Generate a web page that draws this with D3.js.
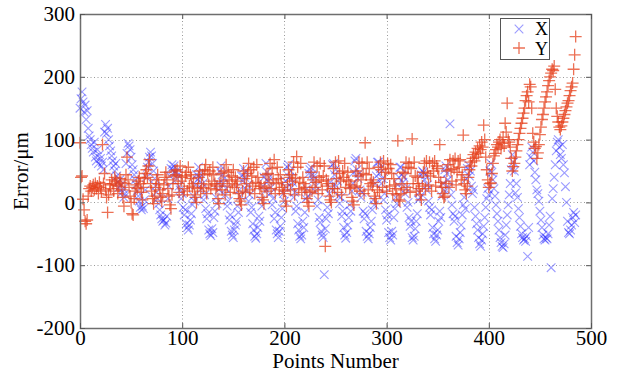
<!DOCTYPE html>
<html>
<head>
<meta charset="utf-8">
<script src="https://cdn.jsdelivr.net/npm/d3@7"></script>
<style>
  body { margin: 0; background: #fff; }
  svg { display: block; }
  svg text { font-family: "Liberation Serif", "Times New Roman", "DejaVu Serif", serif; }
</style>
</head>
<body>
<svg id="chart" width="622" height="378"></svg>
<script>
// Axis tick values
const xTicks = [0, 100, 200, 300, 400, 500];
const yTicks = [-200, -100, 0, 100, 200, 300];
const seriesNames = ["X", "Y"];
const axisTitles = { x: "Points Number", y: "Error/\u03bcm" };
const serifFamily = '"Liberation Serif", "Times New Roman", "DejaVu Serif", serif';

// Error in X direction for each measured point (index = point number)
const errX = [
  150, 165, 176, 160, 144, 155, 132, 146, 118, 106,
  100, 92, 86, 80, 96, 72, 66, 84, 62, 76,
  70, 58, 64, 52, 112, 124, 110, 118, 100, 90,
  82, 74, 66, 58, 50, 62, 42, 32, 24, 36,
  28, 16, 22, 8, 14, 62, 78, 94, 90, 84,
  72, 60, 52, 44, 36, 28, 18, 10, 2, -8,
  -12, -6, -10, 4, 20, 40, 56, 64, 72, 80,
  74, 62, 50, 38, 26, 16, 6, -2, -12, -20,
  -26, -30, -28, -36, -33, -22, 6, 26, 42, 54,
  60, 52, 58, 46,
  50, 38, 44, 26, 20, 6, 14, -8, -20, -12, -34, -40, -44, -36, -28, -18, -4, 10, 2, 28, 44, 36,
  56, 40, 46, 22, 30, 4, 12, -10, -26, -18, -44, -50, -53, -42, -48, -24, -14, 8, -2, 30, 20, 50,
  58, 44, 30, 38, 12, 22, -6, 2, -28, -20, -46, -52, -56, -44, -36, -30, -6, -16, 20, 10, 42, 34,
  54, 40, 48, 20, 28, 2, 12, -16, -8, -34, -44, -54, -57, -50, -40, -22, -30, 4, -6, 26, 40, 18,
  62, 48, 34, 40, 14, 24, -4, 6, -26, -16, -44, -50, -56, -46, -38, -24, -10, 14, 2, 34, 24, 56,
  60, 40, 50, 24, 32, 8, 16, -14, -6, -34, -44, -54, -58, -52, -30, -40, -16, 6, 22, 10, 46, 52,
  56, 44, 36, 42, 18, 26, -6, 4, -24, -32, -46, -52, -56, -115, -42, -26, -8, -18, 14, 32, 22, 60,
  62, 44, 52, 26, 34, 10, -2, 8, -22, -14, -40, -52, -57, -48, -36, -24, -4, -14, 18, 30, 48, 66,
  70, 52, 38, 46, 20, 8, 16, -14, -26, -18, -46, -54, -58, -50, -40, -30, -12, 4, -4, 30, 42, 64,
  64, 46, 54, 30, 38, 4, 14, -12, -28, -20, -48, -56, -60, -46, -52, -24, -10, 8, -2, 28, 40, 56,
  56, 44, 32, 40, 14, 22, -8, 0, -24, -38, -30, -56, -60, -54, -42, -30, -18, 4, 16, 8, 44, 50,
  48, 36, 44, 20, 28, 2, -8, -20, -12, -40, -50, -58, -62, -52, -44, -30, -14, -24, 10, 30, 20, 52,
  58, 46, 36, 24, 125, 12, -4, -18, -30, -22, -54, -64, -68, -58, -48, -36, -20, -4, 8, -10, 38, 54,
  60, 42, 50, 26, 14, 20, -8, -22, -34, -44, -56, -66, -70, -60, -50, -38, -24, -8, 6, 22, 12, 50,
  62, 48, 36, 22, 10, -4, -18, -30, -44, -56, -64, -70,
  -72, -66, -52, -36, -20, -4, 12, 30, 52, 76,
  64, 50, 15, 30, 8, -10, -24, -38, -50, -56, -60, -58,
  -62, -54, -86, -40, 60, 72, 88, 80, 66, 48,
  36, 20, 14, 2, -14, -28, -40, -52, -58, -60, -56, -58,
  -50, -36, -22, -104, 6, 22, 40, 60, 82, 96,
  100, 88, 76, 70, 92, 60, 47, 25, 0, -30,
  -48, -50, -44, -36, -24, -16, -32, -20
];

// Error in Y direction for each measured point (index = point number)
const errY = [
  95, 40, 42, 5, -12, -30, -34, -28, 10, 22,
  26, 18, 24, 28, 20, 30, 22, 26, 14, 32,
  24, 18, 92, 30, 46, 20, 8, -16, 12, 28,
  22, 36, 30, 18, 40, 34, 28, 14, 26, 38,
  32, 20, 8, -6, 30, 44, 72, 36, 24, 10,
  0, -18, -20, 6, 18, 28, 22, 34, 40, 30,
  16, 4, 24, 38, 46, 52, 40, 58, 68, 30,
  18, 6, -2, 10, 24, 36, 44, 30, 20, 8,
  2, 14, 28, 40, 48, 36, 22, 10, -4, -10,
  12, 30, 42, 50,
  44, 52, 30, 16, 58, 34, 40, 12, 22, 42, 48, 18, 56, 26, 44, 38, 24, 30, 12, 8, 0, 22,
  40, 50, 18, 30, 44, 24, 52, 60, 14, 46, 28, 50, 22, 34, 56, 44, 30, 20, 26, 6, -2, 30,
  46, 20, 34, 50, 12, 60, 26, 48, 36, 16, 42, 30, 52, 24, 40, 28, 34, 14, 6, 2, -4, 18,
  50, 38, 16, 30, 46, 62, 20, 52, 42, 26, 56, 14, 32, 60, 40, 30, 22, 26, 8, 4, -2, 24,
  44, 18, 46, 32, 62, 22, 54, 36, 68, 14, 30, 56, 38, 20, 44, 32, 24, 14, 18, 2, -6, 28,
  52, 40, 20, 44, 34, 64, 12, 38, 73, 56, 22, 32, 62, 16, 40, 30, 20, 24, 6, 0, -6, 16,
  48, 18, 36, 64, 24, 32, 58, 14, 40, 62, 34, 20, 42, 58, -70, 36, 26, 30, 10, 4, 0, 22,
  54, 22, 64, 38, 16, 66, 46, 34, 12, 50, 40, 62, 24, 36, 48, 34, 22, 28, 8, 2, -4, 26,
  50, 24, 42, 64, 18, 36, 62, 46, 14, 95, 44, 64, 20, 54, 30, 36, 26, 32, 10, 6, -2, 20,
  56, 16, 64, 52, 24, 66, 38, 48, 18, 62, 54, 26, 60, 46, 14, 38, 28, 22, 12, 98, 4, 2,
  14, 30, 48, 20, 46, 64, 24, 56, 62, 16, 54, 101, 30, 64, 42, 18, 40, 30, 22, 12, 4, 26,
  48, 62, 22, 66, 46, 28, 64, 42, 18, 62, 50, 66, 26, 58, 54, 40, 92, 32, 24, 14, 8, 10,
  30, 50, 60, 24, 68, 52, 34, 66, 54, 70, 28, 48, 66, 56, 68, 36, 44, 107, 30, 20, 14, 26,
  40, 52, 64, 58, 70, 76, 66, 80, 72, 86, 78, 90, 84, 96, 88, 123, 100, 72, 52, 36, 24, 30,
  31, 46, 62, 74, 78, 84, 92, 88, 96, 100,
  86, 94, 104, 90, 126, 112, 158, 100, 96, 88,
  70, 50, 57, 62, 72, 82, 92, 100, 110, 118,
  126, 134, 142, 150, 162, 170, 176, 160, 188, 184,
  150, 110, 96, 86, 89, 70, 79, 92, 108, 120,
  132, 140, 150, 160, 168, 176, 186, 194, 200, 206,
  212, 210, 217, 180, 150, 137, 128, 120, 116, 122,
  128, 134, 140, 146, 152, 158, 162, 170, 178, 184, 190, 212, 235, 264
];

const svg = d3.select("#chart");
const plotLeft = 80, plotRight = 591, plotTop = 14, plotBottom = 328;
const fontSize = 21;
const plainNumber = d => String(d);   // ASCII hyphen for negatives

const x = d3.scaleLinear().domain([0, 500]).range([plotLeft, plotRight]);
const y = d3.scaleLinear().domain([-200, 300]).range([plotBottom, plotTop]);

// dotted grid at the interior ticks
const grid = svg.append("g").attr("stroke", "#9a9a9a").attr("stroke-width", 1)
  .attr("stroke-dasharray", "1,2.5");
grid.selectAll("line.vx").data(xTicks.slice(1, -1)).join("line")
  .attr("x1", d => Math.round(x(d)) + 0.5).attr("x2", d => Math.round(x(d)) + 0.5)
  .attr("y1", plotTop).attr("y2", plotBottom);
grid.selectAll("line.hy").data(yTicks.slice(1, -1)).join("line")
  .attr("y1", d => Math.round(y(d)) + 0.5).attr("y2", d => Math.round(y(d)) + 0.5)
  .attr("x1", plotLeft).attr("x2", plotRight);

// marker shapes
const crossPath = "M-4.3,-4.3L4.3,4.3M-4.3,4.3L4.3,-4.3";
const plusPath = "M-6,0H6M0,-6V6";

svg.append("g").selectAll("path").data(errX).join("path")
  .attr("d", crossPath)
  .attr("transform", (d, i) => `translate(${x(i)},${y(d)})`)
  .attr("fill", "none").attr("stroke", "#2222ff").attr("stroke-opacity", 0.45).attr("stroke-width", 1.1);

svg.append("g").selectAll("path").data(errY).join("path")
  .attr("d", plusPath)
  .attr("transform", (d, i) => `translate(${x(i)},${y(d)})`)
  .attr("fill", "none").attr("stroke", "#e6401c").attr("stroke-opacity", 0.75).attr("stroke-width", 1.3);

// frame
svg.append("rect").attr("x", plotLeft + 0.5).attr("y", plotTop + 0.5)
  .attr("width", plotRight - plotLeft).attr("height", plotBottom - plotTop)
  .attr("fill", "none").attr("stroke", "#6e6e6e").attr("stroke-width", 1.5);

// axes with inward ticks on all four sides
function styleAxis(g) {
  g.attr("font-family", serifFamily).attr("font-size", fontSize);
  g.select(".domain").remove();
  g.selectAll(".tick line").attr("stroke", "#555").attr("stroke-width", 1);
  g.selectAll("text").attr("fill", "#000");
}
svg.append("g").attr("transform", `translate(0,${plotBottom})`)
  .call(d3.axisBottom(x).tickValues(xTicks).tickSize(-5).tickPadding(2).tickFormat(plainNumber))
  .call(styleAxis);
svg.append("g").attr("transform", `translate(0,${plotTop})`)
  .call(d3.axisTop(x).tickValues(xTicks).tickSize(-5).tickFormat(""))
  .call(styleAxis);
svg.append("g").attr("transform", `translate(${plotLeft},0)`)
  .call(d3.axisLeft(y).tickValues(yTicks).tickSize(-5).tickPadding(5).tickFormat(plainNumber))
  .call(styleAxis);
svg.append("g").attr("transform", `translate(${plotRight},0)`)
  .call(d3.axisRight(y).tickValues(yTicks).tickSize(-5).tickFormat(""))
  .call(styleAxis);

// axis titles
svg.append("text").attr("x", (plotLeft + plotRight) / 2).attr("y", 368)
  .attr("text-anchor", "middle").attr("font-family", serifFamily).attr("font-size", fontSize)
  .text(axisTitles.x);
svg.append("text").attr("transform", `translate(28,${(plotTop + plotBottom) / 2}) rotate(-90)`)
  .attr("text-anchor", "middle").attr("font-family", serifFamily).attr("font-size", fontSize)
  .text(axisTitles.y);

// legend
const lg = svg.append("g");
lg.append("rect").attr("x", 500.5).attr("y", 18.5).attr("width", 49).attr("height", 41)
  .attr("fill", "#fff").attr("stroke", "#555").attr("stroke-width", 1);
lg.append("path").attr("d", crossPath).attr("transform", "translate(519,29)")
  .attr("fill", "none").attr("stroke", "#2222ff").attr("stroke-opacity", 0.45).attr("stroke-width", 1.1);
lg.append("path").attr("d", plusPath).attr("transform", "translate(519,48)")
  .attr("fill", "none").attr("stroke", "#e6401c").attr("stroke-opacity", 0.75).attr("stroke-width", 1.3);
lg.selectAll("text").data(seriesNames).join("text")
  .attr("x", 535).attr("y", (d, i) => 35 + i * 19.5)
  .attr("font-family", serifFamily).attr("font-size", 18).attr("fill", "#000").text(d => d);
</script>
</body>
</html>
